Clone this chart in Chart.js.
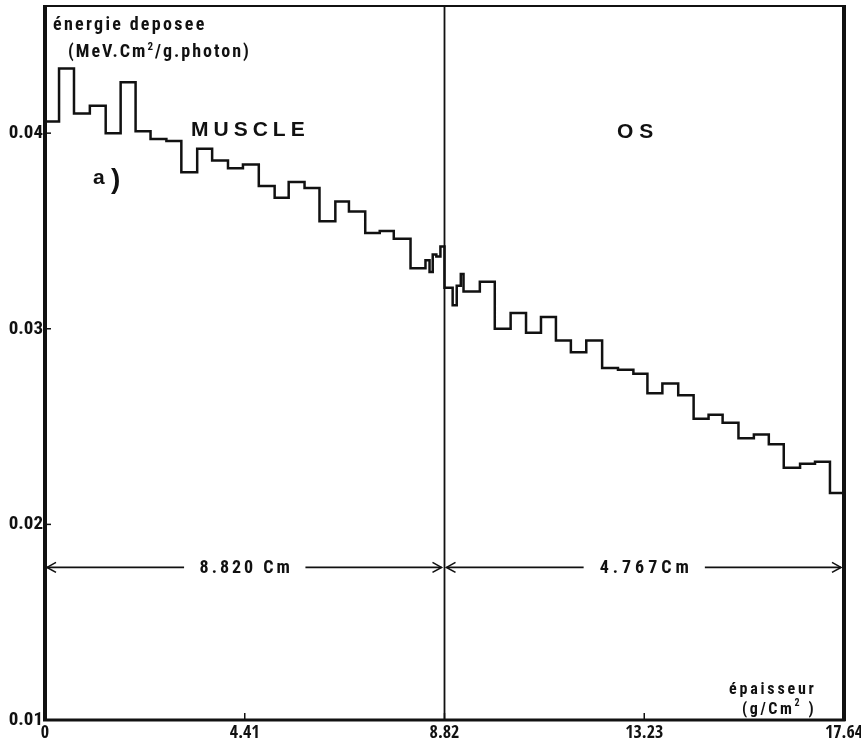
<!DOCTYPE html>
<html>
<head>
<meta charset="utf-8">
<style>
  html, body { margin: 0; padding: 0; background: #fff; overflow: hidden; }
  #wrap { width: 861px; height: 747px; overflow: hidden; }
  canvas { display: block; }
</style>
<script src="https://cdn.jsdelivr.net/npm/chart.js@4.4.1/dist/chart.umd.min.js"></script>
</head>
<body>
<div id="wrap"><canvas id="c" width="861" height="747"></canvas></div>
<script>
// Depth-dose histogram: energy deposited per bin through a muscle slab followed by a bone slab.
// Bin edges along the thickness axis (g/cm²)
const binEdges = [
  0, 0.31, 0.64, 0.99, 1.34, 1.67, 2.00, 2.33, 2.68, 3.01, 3.36, 3.69, 4.04, 4.37, 4.72,
  5.07, 5.38, 5.73, 6.06, 6.41, 6.71, 7.07, 7.39, 7.70, 8.07, 8.40, 8.49, 8.56, 8.64, 8.73,
  8.82, 9.00, 9.09, 9.18, 9.24, 9.60, 9.93, 10.28, 10.62, 10.95, 11.28, 11.61, 11.95, 12.30,
  12.65, 12.99, 13.30, 13.63, 13.98, 14.32, 14.65, 14.96, 15.31, 15.65, 15.98, 16.31, 16.67,
  17.00, 17.33, 17.64
];
// Energy deposited in each bin (MeV·cm²/g·photon)
const energyMuscle = [
  0.0406, 0.0433, 0.0410, 0.0414, 0.0400, 0.0426, 0.0401, 0.0397, 0.0396, 0.0380,
  0.0392, 0.0386, 0.0382, 0.0384, 0.0373, 0.0367, 0.0375, 0.0372, 0.0355, 0.0365,
  0.0360, 0.0349, 0.0350, 0.0346, 0.0331, 0.0335, 0.0329, 0.0338, 0.0337, 0.0342
];
const energyBone = [
  0.0321, 0.0312, 0.0322, 0.0328, 0.0319, 0.0324, 0.0300, 0.0308, 0.0298, 0.0306,
  0.0294, 0.0288, 0.0294, 0.0280, 0.0279, 0.0277, 0.0267, 0.0272, 0.0266, 0.0254,
  0.0256, 0.0252, 0.0244, 0.0246, 0.0241, 0.0229, 0.0231, 0.0232, 0.0216
];
const interfaceDepth = 8.82;
const totalDepth = 17.64;
const xTickValues = [0, 4.41, 8.82, 13.23, 17.64];
const xTickLabels = ['0', '4.41', '8.82', '13.23', '17.64'];
const yTickLabels = ['0.01', '0.02', '0.03', '0.04'];
const yMin = 0.01, yMax = 0.0465;
const slabWidths = ['8.820 Cm', '4.767Cm'];
const dimensionLevel = 0.0178;

const COND = "'Roboto Condensed', 'DejaVu Sans Condensed', sans-serif";
const TIGHT = "'Open Sans Condensed', 'Roboto Condensed', sans-serif";
const WIDE = "'Liberation Sans', 'DejaVu Sans', sans-serif";
const INK = '#111';

const energy = energyMuscle.concat(energyBone);
// each bin value holds from its left edge up to the next edge
const histPoints = binEdges.map((x, i) => ({ x, y: energy[Math.min(i, energy.length - 1)] }));

function arrowHead(ctx, x, y, dir) {
  ctx.beginPath();
  ctx.moveTo(x + dir * 9, y - 5);
  ctx.lineTo(x, y);
  ctx.lineTo(x + dir * 9, y + 5);
  ctx.stroke();
}

function dimension(ctx, x0, x1, y, label, spacing) {
  ctx.save();
  ctx.font = `bold 18px ${COND}`;
  ctx.letterSpacing = spacing + 'px';
  const w = ctx.measureText(label).width;
  const mid = (x0 + x1) / 2;
  const gap = w / 2 + 14;
  ctx.strokeStyle = INK;
  ctx.lineWidth = 1.6;
  ctx.beginPath();
  ctx.moveTo(x0 + 2, y); ctx.lineTo(mid - gap, y);
  ctx.moveTo(mid + gap, y); ctx.lineTo(x1 - 3, y);
  ctx.stroke();
  arrowHead(ctx, x0 + 2, y, 1);
  arrowHead(ctx, x1 - 3, y, -1);
  ctx.fillStyle = INK;
  ctx.textAlign = 'center';
  ctx.textBaseline = 'middle';
  ctx.fillText(label, mid + spacing / 2, y + 1);
  ctx.restore();
}

function text(ctx, str, x, y, font, spacing) {
  ctx.save();
  ctx.font = font;
  ctx.letterSpacing = spacing + 'px';
  ctx.fillStyle = INK;
  ctx.textAlign = 'left';
  ctx.textBaseline = 'alphabetic';
  ctx.fillText(str, x, y);
  const w = ctx.measureText(str).width;
  ctx.restore();
  return w;
}

// runs of [string, font size, baseline] written one after another (for superscripts)
function runs(ctx, parts, x, spacing) {
  parts.forEach(([s, sz, yy]) => {
    x += text(ctx, s, x, yy, `bold ${sz}px ${COND}`, spacing);
  });
}

const decorations = {
  id: 'decorations',
  afterDraw(chart) {
    const { ctx, scales, chartArea } = chart;
    const xs = scales.x, ys = scales.y;
    const L = xs.getPixelForValue(0);
    const R = Math.min(xs.getPixelForValue(totalDepth), chartArea.right);
    const T = ys.getPixelForValue(yMax);
    const B = ys.getPixelForValue(yMin);
    ctx.save();
    ctx.globalCompositeOperation = 'source-over';
    ctx.fillStyle = INK;
    // frame: heavy left, bottom and right sides, lighter top
    ctx.fillRect(L - 2, T - 1, 4, B - T + 2);
    ctx.fillRect(L - 2, B - 1.5, R - L + 3.5, 3);
    ctx.fillRect(R - 2, T - 1, 4, B - T + 2);
    ctx.fillRect(L - 2, T - 1, R - L + 3.5, 2);
    // inward tick marks
    ctx.strokeStyle = INK;
    ctx.lineWidth = 1.5;
    ys.ticks.forEach(t => {
      const y = ys.getPixelForValue(t.value);
      ctx.beginPath(); ctx.moveTo(L, y); ctx.lineTo(L + 6, y); ctx.stroke();
    });
    xs.ticks.forEach(t => {
      const x = xs.getPixelForValue(t.value);
      ctx.beginPath(); ctx.moveTo(x, B); ctx.lineTo(x, B - 7); ctx.stroke();
    });
    ctx.restore();

    // slab thickness dimensions
    const yd = ys.getPixelForValue(dimensionLevel);
    const xb = xs.getPixelForValue(interfaceDepth);
    dimension(ctx, L, xb, yd, slabWidths[0], 3);
    dimension(ctx, xb, R, yd, slabWidths[1], 4);

    // axis titles and region names
    text(ctx, 'énergie deposee', L + 8, 30, `bold 18px ${COND}`, 2.3);
    runs(ctx, [['(MeV.Cm', 18, 57], ['2', 11, 50], ['/g.photon)', 18, 57]], L + 23, 2);

    text(ctx, 'MUSCLE', 191, 136, `bold 21px ${WIDE}`, 5);
    text(ctx, 'OS', 617, 138, `bold 21px ${WIDE}`, 6);
    text(ctx, 'a', 93, 184, `bold 21px ${WIDE}`, 0);
    text(ctx, ')', 111, 188, `bold 28px ${WIDE}`, 0);

    text(ctx, 'épaisseur', 729, 694, `bold 16px ${COND}`, 2.8);
    runs(ctx, [['(g/Cm', 16, 714], ['2', 10, 706], [' )', 16, 714]], 742, 2.6);
  }
};

new Chart(document.getElementById('c'), {
  type: 'line',
  data: {
    datasets: [
      {
        label: 'énergie déposée',
        data: histPoints,
        stepped: 'before',
        borderColor: INK,
        borderWidth: 2.5,
        pointRadius: 0,
        fill: false
      },
      {
        label: 'interface muscle / os',
        data: [{ x: interfaceDepth, y: yMin }, { x: interfaceDepth, y: yMax }],
        borderColor: INK,
        borderWidth: 1.8,
        pointRadius: 0,
        fill: false
      },
      {
        label: 'face arrière',
        data: [{ x: totalDepth, y: yMin }, { x: totalDepth, y: yMax }],
        borderColor: INK,
        borderWidth: 3,
        pointRadius: 0,
        fill: false,
        clip: 4
      }
    ]
  },
  options: {
    responsive: false,
    devicePixelRatio: 1,
    animation: false,
    layout: { padding: { top: 6, right: 17, left: 0, bottom: 0 } },
    plugins: { legend: { display: false }, tooltip: { enabled: false } },
    scales: {
      x: {
        type: 'linear',
        min: 0,
        max: totalDepth,
        afterBuildTicks: s => { s.ticks = xTickValues.map(v => ({ value: v })); },
        afterFit: s => { s.height = 27; s.paddingLeft = 0; s.paddingRight = 0; },
        grid: { display: false, drawTicks: false },
        border: { display: false },
        ticks: {
          autoSkip: false,
          maxRotation: 0,
          padding: 2,
          color: INK,
          font: { family: TIGHT, size: 18, weight: 'bold' },
          callback: (v, i) => xTickLabels[i]
        }
      },
      y: {
        type: 'linear',
        min: yMin,
        max: yMax,
        afterBuildTicks: s => { s.ticks = yTickLabels.map(v => ({ value: parseFloat(v) })); },
        afterFit: s => { s.width = 45; s.paddingTop = 0; s.paddingBottom = 0; },
        grid: { display: false, drawTicks: false },
        border: { display: false },
        ticks: {
          padding: 2,
          color: INK,
          font: { family: COND, size: 19, weight: 'bold' },
          callback: (v, i) => yTickLabels[i]
        }
      }
    }
  },
  plugins: [decorations]
});
</script>
</body>
</html>
